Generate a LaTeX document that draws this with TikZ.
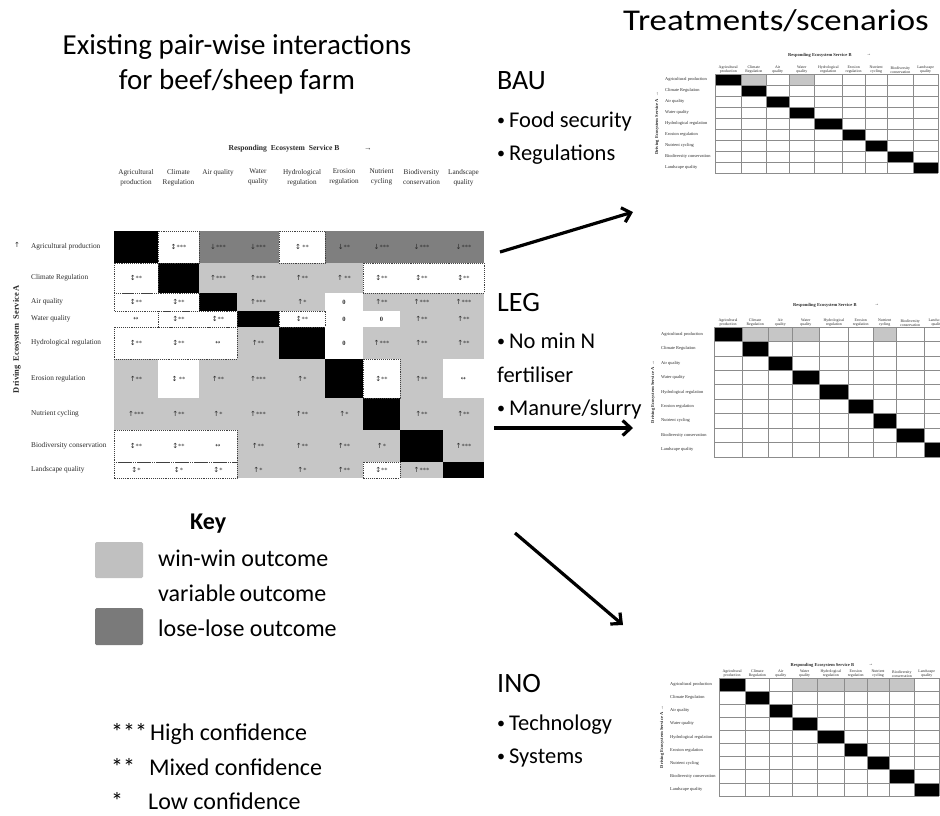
\documentclass[tikz,border=0pt]{standalone}
\usepackage{fontspec}
\setmainfont{Carlito}
\newfontfamily\tms{Liberation Serif}
\newfontfamily\arw{DejaVu Sans}
\usetikzlibrary{arrows.meta}
\definecolor{cL}{HTML}{C6C6C6}
\definecolor{cD}{HTML}{7F7F7F}
\definecolor{cB}{HTML}{000000}
\definecolor{cW}{HTML}{FFFFFF}
\definecolor{txt}{HTML}{2A2A2A}
\definecolor{keyL}{HTML}{C0C0C0}
\definecolor{keyD}{HTML}{7A7A7A}
\newcommand\ud{{\arw\fontsize{7}{7}\selectfont ↕}}
\newcommand\uu{{\arw\fontsize{7}{7}\selectfont ↑}}
\newcommand\dd{{\arw\fontsize{7}{7}\selectfont ↓}}
\newcommand\lr{{\arw\fontsize{6}{7}\selectfont ↔}}
\newcommand\bull{\raisebox{2pt}{\fontsize{16}{18}\selectfont •}\hspace{4pt}}
\def\CX{{114,158,199,237,279,325,363,400,443,484}}
\def\RY{{231,263,293,311,327,359,398,430,462,478}}
\def\FR{{0,0.1189,0.2297,0.3324,0.4459,0.5703,0.6730,0.7730,0.8892,1}}
\newcommand\matrow[2]{%
  \foreach \f/\t [count=\c from 0] in {#2}{%
    \pgfmathsetmacro\xl{\CX[\c]}%
    \pgfmathsetmacro\xr{\CX[\c+1]}%
    \pgfmathsetmacro\yt{\RY[#1]}%
    \pgfmathsetmacro\yb{\RY[#1+1]}%
    \fill[\f] (\xl,\yt) rectangle (\xr,\yb);
    \node[cellt] (m-#1-\c) at ({(\xl+\xr)/2},{(\yt+\yb)/2}) {\t};
  }}
\newcommand\dotbox[4]{%
  \draw[dotb] ({\CX[#1]},{\RY[#2]}) rectangle ({\CX[#3+1]},{\RY[#4+1]});}
\newcommand\smallmat[8]{%
  \foreach \c in {#6}{\pgfmathsetmacro\fa{\FR[\c]}\pgfmathsetmacro\fb{\FR[\c+1]}%
    \fill[cL] ({#2+\fa*#4},#3) rectangle ({#2+\fb*#4},{#3+#5/9});}
  \foreach \i in {0,...,8}{\pgfmathsetmacro\fa{\FR[\i]}\pgfmathsetmacro\fb{\FR[\i+1]}%
    \fill[cB] ({#2+\fa*#4},{#3+\i*#5/9}) rectangle ({#2+\fb*#4},{#3+(\i+1)*#5/9});}
  \foreach \k in {0,...,9}{\pgfmathsetmacro\fa{\FR[\k]}%
    \draw[sgrid] ({#2+\fa*#4},#3) -- ({#2+\fa*#4},{#3+#5});
    \draw[sgrid] (#2,{#3+\k*#5/9}) -- ({#2+#4},{#3+\k*#5/9});}
  \foreach \lab [count=\c from 0] in {Agricultural\\production,Climate\\Regulation,Air\\quality,Water\\quality,Hydrological\\regulation,Erosion\\regulation,Nutrient\\cycling,Biodiversity\\conservation,Landscape\\quality}{%
    \pgfmathsetmacro\fa{\FR[\c]}\pgfmathsetmacro\fb{\FR[\c+1]}%
    \node[shead] (#1-h\c) at ({#2+(\fa+\fb)/2*#4},{#3-0.6}) {\lab};}
  \foreach \lab [count=\r from 0] in {Agricultural production,Climate Regulation,Air quality,Water quality,Hydrological regulation,Erosion regulation,Nutrient cycling,Biodiversity conservation,Landscape quality}{%
    \node[srow] (#1-r\r) at (#7,{#3+(\r+0.5)*#5/9}) {\lab};}
  \node[stitle] (#1-t) at ({#2+0.47*#4},#8) {Responding Ecosystem Service B};
  \node[stitle] (#1-ta) at ({#2+0.69*#4},#8) {→};
  \node[svert] (#1-v) at ({#7-8},{#3+#5/2}) {Driving Ecosystem Service A \ →};
}
\begin{document}
\begin{tikzpicture}[x=1pt,y=-1pt,
  cellt/.style={font=\tms\fontsize{6.5}{7}\selectfont, inner sep=0, text=txt},
  rowl/.style={font=\tms\fontsize{7.3}{8}\selectfont, anchor=west, inner sep=0, text=txt},
  colh/.style={font=\tms\fontsize{7.2}{10}\selectfont, align=center, anchor=north, inner sep=0, text=txt},
  mtitle/.style={font=\tms\bfseries\fontsize{7.6}{8}\selectfont, inner sep=0, text=txt},
  dotb/.style={draw=black!75, densely dotted, line width=0.9pt},
  sgrid/.style={draw=black!45, line width=0.6pt},
  shead/.style={font=\tms\fontsize{3.9}{4.1}\selectfont, align=center, anchor=south, inner sep=0, text=txt},
  srow/.style={font=\tms\fontsize{4.4}{5}\selectfont, anchor=west, inner sep=0, text=txt},
  stitle/.style={font=\tms\bfseries\fontsize{4.5}{5}\selectfont, inner sep=0, text=txt},
  svert/.style={font=\tms\bfseries\fontsize{4.5}{5}\selectfont, inner sep=0, rotate=90, text=txt},
  big/.style={font=\fontsize{29}{35}\selectfont, inner sep=0, anchor=base},
  lab/.style={font=\fontsize{28}{32}\selectfont, inner sep=0, anchor=base west},
  bul/.style={font=\fontsize{22.5}{26}\selectfont, inner sep=0, anchor=base west},
  keyt/.style={font=\fontsize{24}{28}\selectfont, inner sep=0, anchor=base west},
  arr/.style={line width=3.2pt, -{Straight Barb[length=8pt,width=15pt]}},
]
\clip (0,0) rectangle (940,815);
\fill[white] (0,0) rectangle (940,815);

% ---- titles ----
\node[big] (t1) at (237,54) {Existing pair-wise interactions};
\node[big] (t2) at (237,89) {for beef/sheep farm};
\node[big] (t3) at (776,30) {\scalebox{1.2}[1.04]{Treatments/scenarios}};

% ---- main matrix ----
\matrow{0}{cB/{},cW/\ud***,cD/\dd***,cD/\dd***,cW/\ud\ **,cD/\dd**,cD/\dd***,cD/\dd***,cD/\dd***}
\matrow{1}{cW/\ud**,cB/{},cL/\uu***,cL/\uu***,cL/\uu**,cL/\uu\ **,cW/\ud**,cW/\ud**,cW/\ud**}
\matrow{2}{cW/\ud**,cW/\ud**,cB/{},cL/\uu***,cL/\uu*,cW/\textbf{0},cL/\uu**,cL/\uu***,cL/\uu***}
\matrow{3}{cW/\lr,cW/\ud**,cW/\ud**,cB/{},cW/\ud**,cW/\textbf{0},cW/\textbf{0},cL/\uu**,cL/\uu**}
\matrow{4}{cW/\ud**,cW/\ud**,cW/\lr,cL/\uu**,cB/{},cW/\textbf{0},cL/\uu***,cL/\uu**,cL/\uu**}
\matrow{5}{cL/\uu**,cW/\ud\ **,cL/\uu**,cL/\uu***,cL/\uu*,cB/{},cW/\ud**,cL/\uu**,cW/\lr}
\matrow{6}{cL/\uu***,cL/\uu**,cL/\uu*,cL/\uu***,cL/\uu**,cL/\uu*,cB/{},cL/\uu**,cL/\uu**}
\matrow{7}{cW/\ud**,cW/\ud**,cW/\lr,cL/\uu**,cL/\uu**,cL/\uu**,cL/\uu*,cB/{},cL/\uu***}
\matrow{8}{cW/\ud*,cW/\ud*,cW/\ud*,cL/\uu*,cL/\uu*,cL/\uu**,cW/\ud**,cL/\uu***,cB/{}}
\dotbox{1}{0}{1}{0}
\dotbox{4}{0}{4}{0}
\dotbox{0}{1}{0}{1}
\dotbox{6}{1}{8}{1}
\dotbox{0}{2}{1}{2}
\dotbox{1}{3}{2}{3}
\dotbox{4}{3}{4}{3}
\dotbox{0}{4}{2}{4}
\dotbox{6}{5}{6}{5}
\dotbox{0}{7}{2}{7}
\dotbox{0}{8}{2}{8}
\dotbox{6}{8}{6}{8}

\foreach \lab [count=\r from 0] in {Agricultural production,Climate Regulation,Air quality,Water quality,Hydrological regulation,Erosion regulation,Nutrient cycling,Biodiversity conservation,Landscape quality}{%
  \pgfmathsetmacro\ya{\RY[\r]}\pgfmathsetmacro\yb{\RY[\r+1]}%
  \node[rowl] (ml-\r) at (31,{(\ya+\yb)/2}) {\lab};}
\foreach \lab [count=\c from 0] in {Agricultural\\production,Climate\\Regulation,Air quality,Water\\quality,Hydrological\\regulation,Erosion\\regulation,Nutrient\\cycling,Biodiversity\\conservation,Landscape\\quality}{%
  \pgfmathsetmacro\xa{\CX[\c]}\pgfmathsetmacro\xb{\CX[\c+1]}%
  \node[colh] (mh-\c) at ({(\xa+\xb)/2},169) {\lab};}
\node[mtitle] (mt) at (284,149) {Responding\ \ Ecosystem\ \ Service B};
\node[mtitle] (mta) at (368,149) {→};
\node[inner sep=0, text=txt] (mup) at (17,245) {\uu};
\node[mtitle, rotate=90, font=\tms\bfseries\fontsize{8.4}{9}\selectfont] (mv) at (17,339) {Driving\ \ Ecosystem\ \ Service A};

% ---- scenario labels ----
\node[lab] (bau) at (497,89) {BAU};
\node[bul] (bau1) at (497,127) {\bull Food security};
\node[bul] (bau2) at (497,160) {\bull Regulations};
\node[lab] (leg) at (497,311) {LEG};
\node[bul] (leg1) at (497,348) {\bull No min N};
\node[bul] (leg2) at (497,382) {fertiliser};
\node[bul] (leg3) at (497,415) {\bull Manure/slurry};
\node[lab] (ino) at (497,692) {INO};
\node[bul] (ino1) at (497,730) {\bull Technology};
\node[bul] (ino2) at (497,763) {\bull Systems};

% ---- small matrices ----
\smallmat{bm}{715}{74}{223}{99}{1,3}{665}{55}
\smallmat{lm}{714}{327}{236}{130}{1,2,3,6}{661}{305}
\smallmat{im}{719}{678}{220}{118}{3,4,5,6,7}{670}{665}

% ---- arrows ----
\coordinate (a1s) at (500,252);
\coordinate (a1e) at (633,212);
\coordinate (a2s) at (494,428);
\coordinate (a2e) at (633,428);
\coordinate (a3s) at (515,533);
\coordinate (a3e) at (623,625);
\draw[arr] (a1s) -- (a1e);
\draw[arr] (a2s) -- (a2e);
\draw[arr] (a3s) -- (a3e);

% ---- key ----
\node[keyt, font=\bfseries\fontsize{24}{28}\selectfont] (key) at (190,529) {Key};
\fill[keyL, rounded corners=1.5pt] (95,542) rectangle (143,578);
\node[keyt] (k1) at (158,566) {win-win outcome};
\node[keyt] (k2) at (158,601) {variable\,outcome};
\fill[keyD, rounded corners=1.5pt] (95,608) rectangle (143,645);
\node[keyt] (k3) at (158,636) {lose-lose outcome};

% ---- confidence ----
\node[keyt] (s1) at (111,740) {***};
\node[keyt] (c1) at (150,740) {High confidence};
\node[keyt] (s2) at (111,775) {**};
\node[keyt] (c2) at (149,775) {Mixed confidence};
\node[keyt] (s3) at (111,809) {*};
\node[keyt] (c3) at (148,809) {Low confidence};
\end{tikzpicture}
\end{document}
